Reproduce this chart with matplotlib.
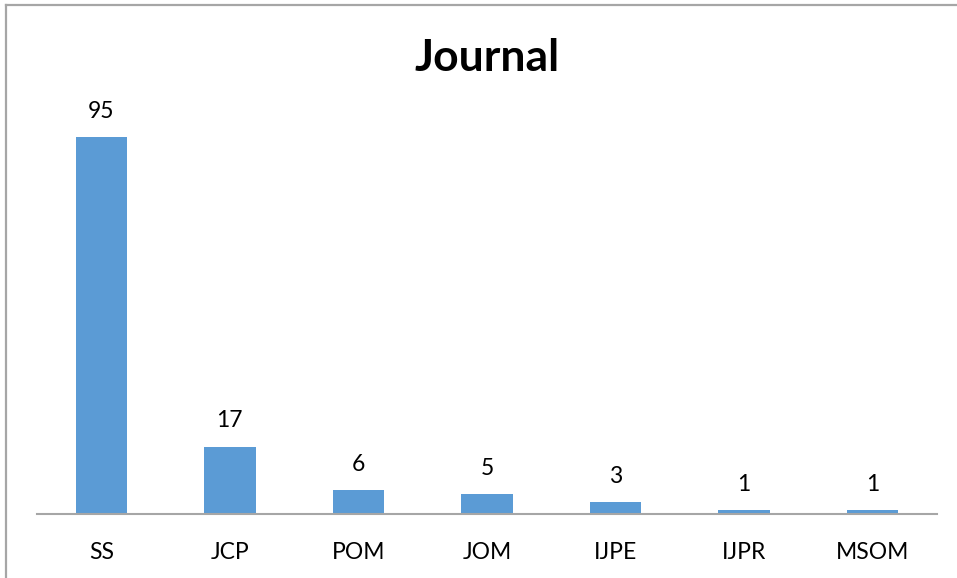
import matplotlib
matplotlib.use("Agg")
import matplotlib.pyplot as plt
from matplotlib.lines import Line2D

journals = ["SS", "JCP", "POM", "JOM", "IJPE", "IJPR", "MSOM"]
counts = [95, 17, 6, 5, 3, 1, 1]

W, H = 957, 578
plt.rcParams["font.family"] = ["Lato", "DejaVu Sans"]

fig = plt.figure(figsize=(W / 100, H / 100), dpi=100)
fig.patch.set_facecolor("white")

# chart-area border (top and left edges)
border = "#a6a6a6"
fig.add_artist(Line2D([6 / W, 1], [1 - 5 / H, 1 - 5 / H], color=border, lw=1.6,
                      transform=fig.transFigure))
fig.add_artist(Line2D([6 / W, 6 / W], [0, 1 - 5 / H], color=border, lw=1.6,
                      transform=fig.transFigure))

left, right, bottom, top = 37, 937, 514, 117
ax = fig.add_axes([left / W, 1 - bottom / H, (right - left) / W, (bottom - top) / H])

x = range(len(journals))
bars = ax.bar(x, counts, width=0.4, color="#5b9bd5", zorder=2)
ax.set_xlim(-0.5, len(journals) - 0.5)
ax.set_ylim(0, 100)

for xi, v in zip(x, counts):
    ax.annotate(str(v), (xi, v), xytext=(0, 11), textcoords="offset points",
                ha="center", va="bottom", fontsize=16.5, color="black")

for s in ["top", "right", "left"]:
    ax.spines[s].set_visible(False)
ax.spines["bottom"].set_color("#a6a6a6")
ax.spines["bottom"].set_linewidth(1.5)
ax.set_yticks([])
ax.set_xticks(list(x))
ax.set_xticklabels(journals, fontsize=16.5)
ax.tick_params(axis="x", length=0, pad=20)

fig.text(0.5 * (left + right) / W, 1 - 58 / H, "Journal", ha="center", va="center",
         fontsize=32, fontweight="bold")

fig.savefig("out.png", dpi=100)
